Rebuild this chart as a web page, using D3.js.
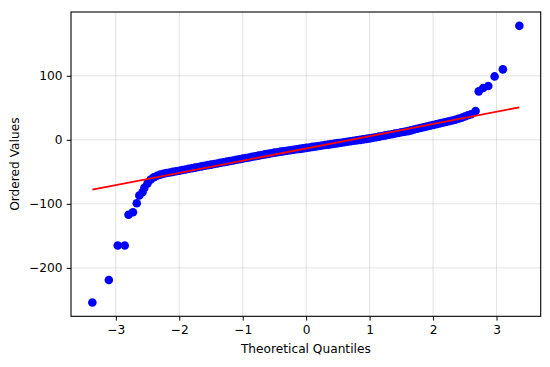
<!DOCTYPE html>
<html>
<head>
<meta charset="utf-8">
<script src="https://cdn.jsdelivr.net/npm/d3@7"></script>
<style>
  html, body { margin: 0; padding: 0; background: #fff; }
  svg { display: block; font-family: "DejaVu Sans", sans-serif; }
</style>
</head>
<body>
<svg id="chart" width="550" height="367"></svg>
<script>
// Theoretical quantiles (x) and ordered values (y)
const theoQ = [
  -3.37, -3.11, -2.97, -2.86, -2.80, -2.73, -2.67, -2.63, -2.58, -2.55,
  -2.50, -2.45, -2.40, -2.35, -2.30, -2.25, -2.20, -2.15, -2.10, -2.05,
  -2.00, -1.95, -1.90, -1.85, -1.80, -1.75, -1.70, -1.65, -1.60, -1.55,
  -1.50, -1.45, -1.40, -1.35, -1.30, -1.25, -1.20, -1.15, -1.10, -1.05,
  -1.00, -0.95, -0.90, -0.85, -0.80, -0.75, -0.70, -0.65, -0.60, -0.55,
  -0.50, -0.45, -0.40, -0.35, -0.30, -0.25, -0.20, -0.15, -0.10, -0.05,
   0.00,  0.05,  0.10,  0.15,  0.20,  0.25,  0.30,  0.35,  0.40,  0.45,
   0.50,  0.55,  0.60,  0.65,  0.70,  0.75,  0.80,  0.85,  0.90,  0.95,
   1.00,  1.05,  1.10,  1.15,  1.20,  1.25,  1.30,  1.35,  1.40,  1.45,
   1.50,  1.55,  1.60,  1.65,  1.70,  1.75,  1.80,  1.85,  1.90,  1.95,
   2.00,  2.05,  2.10,  2.15,  2.20,  2.25,  2.30,  2.35,  2.40,  2.45,
   2.50,  2.55,  2.60,  2.67,  2.72,  2.79,  2.87,  2.97,  3.10,  3.36
];
const orderedValues = [
  -254, -219, -165, -165, -117, -113, -99, -87, -82, -75,
  -68.0, -62.0, -58.5, -56.0, -54.3, -53.1, -51.9, -51.0, -50.1, -49.1,
  -48.2, -47.2, -46.3, -45.3, -44.4, -43.4, -42.5, -41.5, -40.6, -39.6,
  -38.7, -37.8, -36.9, -35.9, -35.0, -34.0, -33.1, -32.2, -31.2, -30.3,
  -29.3, -28.4, -27.5, -26.5, -25.6, -24.7, -23.7, -22.8, -21.9, -20.9,
  -20.0, -19.3, -18.5, -17.8, -17.1, -16.3, -15.6, -14.8, -14.1, -13.4,
  -12.6, -11.9, -11.1, -10.4, -9.7, -8.9, -8.2, -7.5, -6.7, -6.0,
  -5.2, -4.5, -3.8, -3.0, -2.3, -1.5, -0.8, -0.1, 0.7, 1.4,
   2.2, 3.1, 4.1, 5.0, 6.0, 6.9, 7.9, 8.8, 9.8, 10.7,
  11.7, 12.7, 13.6, 14.8, 16.0, 17.2, 18.4, 19.6, 20.7, 21.9,
  23.1, 24.3, 25.5, 26.7, 27.9, 29.1, 30.2, 31.4, 32.9, 34.5,
  36.3, 38.3, 40.0, 45.0, 75.7, 81, 84, 99, 110, 178
];
// Least-squares fit line
const fitSlope = 19.1;
const fitIntercept = -13.45;

const xTicks = [-3, -2, -1, 0, 1, 2, 3];
const yTicks = [-200, -100, 0, 100];

const points = theoQ.map((q, i) => ({ q, v: orderedValues[i] }));

const svg = d3.select("#chart");
const m = { left: 71, top: 12, right: 550 - 540.7, bottom: 367 - 316.3 };
const W = 550, H = 367;

const xExt = d3.extent(theoQ);
const yExt = d3.extent(orderedValues);
const xPad = (xExt[1] - xExt[0]) * 0.05;
const yPad = (yExt[1] - yExt[0]) * 0.05;

const x = d3.scaleLinear().domain([xExt[0] - xPad, xExt[1] + xPad]).range([m.left, W - m.right]);
const y = d3.scaleLinear().domain([yExt[0] - yPad, yExt[1] + yPad]).range([H - m.bottom, m.top]);

// grid
const grid = svg.append("g");
grid.selectAll(".gx").data(xTicks).join("line")
  .attr("x1", d => x(d)).attr("x2", d => x(d))
  .attr("y1", m.top).attr("y2", H - m.bottom)
  .attr("stroke", "#b0b0b0").attr("stroke-opacity", 0.35).attr("stroke-width", 1);
grid.selectAll(".gy").data(yTicks).join("line")
  .attr("y1", d => y(d)).attr("y2", d => y(d))
  .attr("x1", m.left).attr("x2", W - m.right)
  .attr("stroke", "#b0b0b0").attr("stroke-opacity", 0.35).attr("stroke-width", 1);

// points
svg.append("g").selectAll("circle").data(points).join("circle")
  .attr("cx", d => x(d.q)).attr("cy", d => y(d.v))
  .attr("r", 4.3).attr("fill", "#0000ff");

// fit line
svg.append("line")
  .attr("x1", x(xExt[0])).attr("y1", y(fitIntercept + fitSlope * xExt[0]))
  .attr("x2", x(xExt[1])).attr("y2", y(fitIntercept + fitSlope * xExt[1]))
  .attr("stroke", "#ff0000").attr("stroke-width", 1.9);

// axes
const fmt = d3.format("");
const xAxis = svg.append("g").attr("transform", `translate(0,${H - m.bottom})`)
  .call(d3.axisBottom(x).tickValues(xTicks).tickSize(4.3).tickPadding(4.3).tickFormat(fmt));
const yAxis = svg.append("g").attr("transform", `translate(${m.left},0)`)
  .call(d3.axisLeft(y).tickValues(yTicks).tickSize(4.3).tickPadding(4.3).tickFormat(fmt));
[xAxis, yAxis].forEach(a => {
  a.select(".domain").remove();
  a.selectAll("line").attr("stroke", "#000").attr("stroke-width", 1);
  a.selectAll("text").attr("font-size", 12.2).attr("fill", "#000")
    .attr("font-family", "DejaVu Sans, sans-serif");
});

// frame
svg.append("rect")
  .attr("x", m.left).attr("y", m.top)
  .attr("width", W - m.right - m.left).attr("height", H - m.bottom - m.top)
  .attr("fill", "none").attr("stroke", "#000").attr("stroke-width", 1.1);

// labels
svg.append("text").attr("x", (m.left + W - m.right) / 2).attr("y", 352.5)
  .attr("text-anchor", "middle").attr("font-size", 12.2).attr("fill", "#000")
  .text("Theoretical Quantiles");
svg.append("text")
  .attr("transform", `translate(19,${(m.top + H - m.bottom) / 2}) rotate(-90)`)
  .attr("text-anchor", "middle").attr("font-size", 12.2).attr("fill", "#000")
  .text("Ordered Values");
</script>
</body>
</html>
